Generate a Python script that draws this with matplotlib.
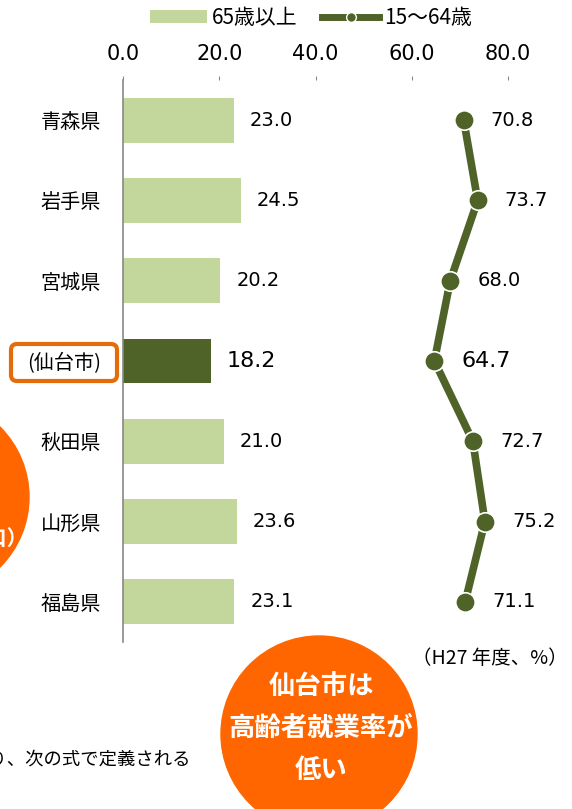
import matplotlib.pyplot as plt
from matplotlib.lines import Line2D
from matplotlib.patches import Patch, Circle, FancyBboxPatch
from matplotlib.font_manager import FontProperties

jp_font = ["Noto Sans CJK JP", "DejaVu Sans"]
num_font = ["DejaVu Sans"]

categories = ["青森県", "岩手県", "宮城県", "(仙台市)", "秋田県", "山形県", "福島県"]
elderly = [23.0, 24.5, 20.2, 18.2, 21.0, 23.6, 23.1]   # 65歳以上
working = [70.8, 73.7, 68.0, 64.7, 72.7, 75.2, 71.1]   # 15～64歳
highlight = "(仙台市)"
x_ticks = [0, 20, 40, 60, 80]

light_green = "#C3D69B"
dark_green = "#4F6228"
orange = "#FF6600"
box_orange = "#E46C0A"

W, H = 572, 809
fig = plt.figure(figsize=(W / 100, H / 100), dpi=100)
ax = fig.add_axes([123 / W, 1 - 642 / H, 385 / W, 562 / H])

ypos = list(range(len(categories)))
colors = [dark_green if c == highlight else light_green for c in categories]
ax.barh(ypos, elderly, height=0.56, color=colors, zorder=2)
ax.plot(working, ypos, color=dark_green, linewidth=5.5, marker="o",
        markersize=14, markerfacecolor=dark_green, markeredgecolor="white",
        markeredgewidth=1.2, zorder=3, clip_on=False)

for y, c, v, w in zip(ypos, categories, elderly, working):
    size = 16 if c == highlight else 14
    ax.annotate(f"{v:.1f}", (v, y), xytext=(11.5, 0), textcoords="offset points",
                ha="left", va="center", fontsize=size, family=num_font)
    ax.annotate(f"{w:.1f}", (w, y), xytext=(19.5, 0), textcoords="offset points",
                ha="left", va="center", fontsize=size, family=num_font)

ax.set_xlim(0, 80)
ax.set_ylim(len(categories) - 0.5, -0.5)
ax.xaxis.tick_top()
ax.set_xticks(x_ticks)
ax.set_xticklabels([f"{t:.1f}" for t in x_ticks], family=num_font, fontsize=15)
ax.tick_params(axis="x", length=3, color="#888888", pad=8.5)
ax.set_yticks(ypos)
ax.set_yticklabels(categories, family=jp_font, fontsize=14.5)
ax.tick_params(axis="y", length=0, pad=16)
for side in ["top", "right", "bottom"]:
    ax.spines[side].set_visible(False)
ax.spines["left"].set_color("#888888")
ax.spines["left"].set_linewidth(1.2)

handles = [
    Patch(facecolor=light_green, edgecolor="none", label="65歳以上"),
    Line2D([0], [0], color=dark_green, linewidth=5, marker="o", markersize=7,
           markerfacecolor=dark_green, markeredgecolor="white",
           markeredgewidth=1, label="15～64歳"),
]
leg_font = FontProperties(family=jp_font, size=15)
fig.legend(handles=handles, loc="center", bbox_to_anchor=(311 / W, 1 - 18 / H),
           ncol=2, frameon=False, prop=leg_font,
           handlelength=2.7, handleheight=0.55, handletextpad=0.25,
           columnspacing=1.2)

# overlay in pixel coordinates for the callouts
ov = fig.add_axes([0, 0, 1, 1], zorder=5)
ov.set_xlim(0, W)
ov.set_ylim(H, 0)
ov.axis("off")
ov.patch.set_alpha(0)

# orange frame around the 仙台市 label
ov.add_patch(FancyBboxPatch((11, 344), 106, 37,
                            boxstyle="round,pad=0,rounding_size=6",
                            facecolor="none", edgecolor=box_orange,
                            linewidth=3))

ov.add_patch(Circle((-70, 497), 99, color=orange, clip_on=False))
ov.text(28, 538, "（人口）", ha="right", va="center", color="white",
        fontsize=15, fontweight="bold", family=jp_font)

ov.add_patch(Circle((319, 734), 98, color=orange, clip_on=False))
for ty, line in zip([687, 728, 770], ["仙台市は", "高齢者就業率が", "低い"]):
    ov.text(321, ty, line, ha="center", va="center", color="white",
            fontsize=19, fontweight="bold", family=jp_font)

ov.text(490, 658, "（H27 年度、%）", ha="center", va="center",
        fontsize=14, family=jp_font)
ov.text(191, 760, "より、次の式で定義される", ha="right", va="center",
        fontsize=13.2, family=jp_font)

fig.savefig("out.png", dpi=100)
